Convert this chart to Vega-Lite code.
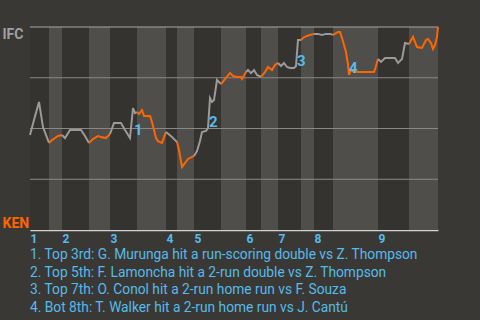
{
  "$schema": "https://vega.github.io/schema/vega-lite/v6.json",
  "width": 408,
  "height": 203,
  "autosize": {"type": "none"},
  "padding": {"left": 30, "top": 27, "right": 42, "bottom": 90},
  "background": "#3a3835",
  "config": {
    "view": {"stroke": null},
    "font": "Roboto",
    "axisX": {
      "grid": false,
      "ticks": false,
      "tickSize": 0,
      "domain": true,
      "domainColor": "#d2d2d2",
      "domainWidth": 1.5,
      "labelAlign": "left",
      "labelBaseline": "alphabetic",
      "labelPadding": 12,
      "labelColor": "#55bbea",
      "labelFont": "Roboto",
      "labelFontSize": 12,
      "labelFontWeight": "bold",
      "labelFlush": false,
      "labelOverlap": false,
      "title": null,
      "zindex": 1
    },
    "axisY": {
      "grid": false,
      "ticks": false,
      "tickSize": 0,
      "domain": true,
      "domainColor": "#a8a8a8",
      "labelAlign": "left",
      "labelPadding": 28,
      "labelBaseline": "alphabetic",
      "labelFont": "Roboto",
      "labelFontSize": 14,
      "labelFontWeight": "bold",
      "title": null,
      "zindex": 1
    }
  },
  "title": {
    "text": [
      "1. Top 3rd: G. Murunga hit a run-scoring double vs Z. Thompson",
      "2. Top 5th: F. Lamoncha hit a 2-run double vs Z. Thompson",
      "3. Top 7th: O. Conol hit a 2-run home run vs F. Souza",
      "4. Bot 8th: T. Walker hit a 2-run home run vs J. Cantú"
    ],
    "orient": "bottom",
    "anchor": "start",
    "frame": "group",
    "font": "Roboto",
    "fontSize": 13.75,
    "fontWeight": "normal",
    "color": "#55bbea",
    "lineHeight": 17.7,
    "baseline": "top",
    "offset": 4
  },
  "datasets": {
    "halves": [
      {"half": "top", "start": 0, "end": 4.75},
      {"half": "bottom", "start": 4.75, "end": 8},
      {"half": "top", "start": 8, "end": 14.75},
      {"half": "bottom", "start": 14.75, "end": 20},
      {"half": "top", "start": 20, "end": 26.75},
      {"half": "bottom", "start": 26.75, "end": 34},
      {"half": "top", "start": 34, "end": 36.75},
      {"half": "bottom", "start": 36.75, "end": 41},
      {"half": "top", "start": 41, "end": 47.75},
      {"half": "bottom", "start": 47.75, "end": 54},
      {"half": "top", "start": 54, "end": 57.75},
      {"half": "bottom", "start": 57.75, "end": 62},
      {"half": "top", "start": 62, "end": 67.75},
      {"half": "bottom", "start": 67.75, "end": 71},
      {"half": "top", "start": 71, "end": 75.75},
      {"half": "bottom", "start": 75.75, "end": 87},
      {"half": "top", "start": 87, "end": 94.75},
      {"half": "bottom", "start": 94.75, "end": 102}
    ],
    "grid": [{"wp": 25}, {"wp": 50}, {"wp": 75}],
    "top": [{"wp": 100}],
    "events": [
      {"n": "1", "play": 26.0, "wp": 49.3},
      {"n": "2", "play": 44.75, "wp": 53.2},
      {"n": "3", "play": 66.75, "wp": 83.3},
      {"n": "4", "play": 79.75, "wp": 79.8}
    ],
    "wp": [
      {"seg": 1, "team": "IFC", "play": 0, "wp": 46.8},
      {"seg": 1, "team": "IFC", "play": 1, "wp": 54.2},
      {"seg": 1, "team": "IFC", "play": 2.25, "wp": 63.1},
      {"seg": 1, "team": "IFC", "play": 3.25, "wp": 50.7},
      {"seg": 1, "team": "IFC", "play": 4.75, "wp": 42.9},
      {"seg": 2, "team": "KEN", "play": 4.75, "wp": 42.9},
      {"seg": 2, "team": "KEN", "play": 5.5, "wp": 44.3},
      {"seg": 2, "team": "KEN", "play": 6.25, "wp": 45.3},
      {"seg": 2, "team": "KEN", "play": 7, "wp": 46.3},
      {"seg": 2, "team": "KEN", "play": 8, "wp": 46.8},
      {"seg": 3, "team": "IFC", "play": 8, "wp": 46.8},
      {"seg": 3, "team": "IFC", "play": 8.75, "wp": 45.3},
      {"seg": 3, "team": "IFC", "play": 10, "wp": 49.3},
      {"seg": 3, "team": "IFC", "play": 12.75, "wp": 49.3},
      {"seg": 3, "team": "IFC", "play": 13.75, "wp": 46.3},
      {"seg": 3, "team": "IFC", "play": 14.75, "wp": 42.9},
      {"seg": 4, "team": "KEN", "play": 14.75, "wp": 42.9},
      {"seg": 4, "team": "KEN", "play": 15.75, "wp": 44.8},
      {"seg": 4, "team": "KEN", "play": 17, "wp": 46.3},
      {"seg": 4, "team": "KEN", "play": 17.75, "wp": 45.8},
      {"seg": 4, "team": "KEN", "play": 19, "wp": 45.3},
      {"seg": 4, "team": "KEN", "play": 20, "wp": 47.3},
      {"seg": 5, "team": "IFC", "play": 20, "wp": 47.3},
      {"seg": 5, "team": "IFC", "play": 21, "wp": 52.7},
      {"seg": 5, "team": "IFC", "play": 22.75, "wp": 52.7},
      {"seg": 5, "team": "IFC", "play": 23.75, "wp": 49.3},
      {"seg": 5, "team": "IFC", "play": 25, "wp": 45.3},
      {"seg": 5, "team": "IFC", "play": 25.75, "wp": 60.1},
      {"seg": 5, "team": "IFC", "play": 26.25, "wp": 57.6},
      {"seg": 5, "team": "IFC", "play": 26.75, "wp": 58.1},
      {"seg": 6, "team": "KEN", "play": 26.75, "wp": 58.1},
      {"seg": 6, "team": "KEN", "play": 27.25, "wp": 57.1},
      {"seg": 6, "team": "KEN", "play": 28, "wp": 59.1},
      {"seg": 6, "team": "KEN", "play": 28.5, "wp": 56.2},
      {"seg": 6, "team": "KEN", "play": 30, "wp": 56.2},
      {"seg": 6, "team": "KEN", "play": 30.5, "wp": 53.2},
      {"seg": 6, "team": "KEN", "play": 31, "wp": 49.3},
      {"seg": 6, "team": "KEN", "play": 31.5, "wp": 45.3},
      {"seg": 6, "team": "KEN", "play": 32, "wp": 43.8},
      {"seg": 6, "team": "KEN", "play": 33, "wp": 42.9},
      {"seg": 6, "team": "KEN", "play": 34, "wp": 48.3},
      {"seg": 7, "team": "IFC", "play": 34, "wp": 48.3},
      {"seg": 7, "team": "IFC", "play": 35.5, "wp": 45.8},
      {"seg": 7, "team": "IFC", "play": 36.75, "wp": 43.3},
      {"seg": 8, "team": "KEN", "play": 36.75, "wp": 43.3},
      {"seg": 8, "team": "KEN", "play": 37.25, "wp": 39.4},
      {"seg": 8, "team": "KEN", "play": 38, "wp": 31.0},
      {"seg": 8, "team": "KEN", "play": 39.5, "wp": 35.0},
      {"seg": 8, "team": "KEN", "play": 41, "wp": 36.5},
      {"seg": 9, "team": "IFC", "play": 41, "wp": 36.5},
      {"seg": 9, "team": "IFC", "play": 41.75, "wp": 38.9},
      {"seg": 9, "team": "IFC", "play": 42.5, "wp": 43.8},
      {"seg": 9, "team": "IFC", "play": 43, "wp": 48.3},
      {"seg": 9, "team": "IFC", "play": 44, "wp": 48.8},
      {"seg": 9, "team": "IFC", "play": 44.5, "wp": 50.2},
      {"seg": 9, "team": "IFC", "play": 45, "wp": 65.0},
      {"seg": 9, "team": "IFC", "play": 45.5, "wp": 63.1},
      {"seg": 9, "team": "IFC", "play": 46, "wp": 64.0},
      {"seg": 9, "team": "IFC", "play": 46.75, "wp": 73.9},
      {"seg": 9, "team": "IFC", "play": 47.25, "wp": 72.9},
      {"seg": 9, "team": "IFC", "play": 47.75, "wp": 71.9},
      {"seg": 10, "team": "KEN", "play": 47.75, "wp": 71.9},
      {"seg": 10, "team": "KEN", "play": 49, "wp": 74.9},
      {"seg": 10, "team": "KEN", "play": 50, "wp": 77.3},
      {"seg": 10, "team": "KEN", "play": 50.75, "wp": 75.9},
      {"seg": 10, "team": "KEN", "play": 51.75, "wp": 75.4},
      {"seg": 10, "team": "KEN", "play": 52.75, "wp": 75.4},
      {"seg": 10, "team": "KEN", "play": 53, "wp": 74.4},
      {"seg": 10, "team": "KEN", "play": 54, "wp": 77.8},
      {"seg": 11, "team": "IFC", "play": 54, "wp": 77.8},
      {"seg": 11, "team": "IFC", "play": 54.5, "wp": 78.8},
      {"seg": 11, "team": "IFC", "play": 55.25, "wp": 77.3},
      {"seg": 11, "team": "IFC", "play": 56, "wp": 78.8},
      {"seg": 11, "team": "IFC", "play": 56.75, "wp": 76.4},
      {"seg": 11, "team": "IFC", "play": 57.75, "wp": 75.4},
      {"seg": 12, "team": "KEN", "play": 57.75, "wp": 75.4},
      {"seg": 12, "team": "KEN", "play": 58.75, "wp": 77.8},
      {"seg": 12, "team": "KEN", "play": 59.5, "wp": 80.3},
      {"seg": 12, "team": "KEN", "play": 60.5, "wp": 78.8},
      {"seg": 12, "team": "KEN", "play": 61.25, "wp": 81.3},
      {"seg": 12, "team": "KEN", "play": 62, "wp": 82.3},
      {"seg": 13, "team": "IFC", "play": 62, "wp": 82.3},
      {"seg": 13, "team": "IFC", "play": 62.75, "wp": 80.8},
      {"seg": 13, "team": "IFC", "play": 63.5, "wp": 82.3},
      {"seg": 13, "team": "IFC", "play": 64.25, "wp": 80.3},
      {"seg": 13, "team": "IFC", "play": 65, "wp": 79.8},
      {"seg": 13, "team": "IFC", "play": 66, "wp": 79.8},
      {"seg": 13, "team": "IFC", "play": 66.5, "wp": 80.8},
      {"seg": 13, "team": "IFC", "play": 67, "wp": 93.6},
      {"seg": 13, "team": "IFC", "play": 67.75, "wp": 93.6},
      {"seg": 14, "team": "KEN", "play": 67.75, "wp": 93.6},
      {"seg": 14, "team": "KEN", "play": 68.25, "wp": 94.6},
      {"seg": 14, "team": "KEN", "play": 69.25, "wp": 95.6},
      {"seg": 14, "team": "KEN", "play": 70, "wp": 96.1},
      {"seg": 14, "team": "KEN", "play": 71, "wp": 96.6},
      {"seg": 15, "team": "IFC", "play": 71, "wp": 96.6},
      {"seg": 15, "team": "IFC", "play": 72, "wp": 96.6},
      {"seg": 15, "team": "IFC", "play": 73, "wp": 96.1},
      {"seg": 15, "team": "IFC", "play": 74, "wp": 96.6},
      {"seg": 15, "team": "IFC", "play": 75, "wp": 96.6},
      {"seg": 15, "team": "IFC", "play": 75.75, "wp": 96.1},
      {"seg": 16, "team": "KEN", "play": 75.75, "wp": 96.1},
      {"seg": 16, "team": "KEN", "play": 77, "wp": 97.5},
      {"seg": 16, "team": "KEN", "play": 77.5, "wp": 97.5},
      {"seg": 16, "team": "KEN", "play": 78, "wp": 94.6},
      {"seg": 16, "team": "KEN", "play": 78.5, "wp": 91.1},
      {"seg": 16, "team": "KEN", "play": 79, "wp": 87.7},
      {"seg": 16, "team": "KEN", "play": 79.25, "wp": 84.2},
      {"seg": 16, "team": "KEN", "play": 79.5, "wp": 81.8},
      {"seg": 16, "team": "KEN", "play": 79.75, "wp": 76.4},
      {"seg": 16, "team": "KEN", "play": 80.25, "wp": 78.8},
      {"seg": 16, "team": "KEN", "play": 81, "wp": 77.8},
      {"seg": 16, "team": "KEN", "play": 86, "wp": 77.8},
      {"seg": 16, "team": "KEN", "play": 86.5, "wp": 80.8},
      {"seg": 16, "team": "KEN", "play": 87, "wp": 84.2},
      {"seg": 17, "team": "IFC", "play": 87, "wp": 84.2},
      {"seg": 17, "team": "IFC", "play": 87.75, "wp": 82.8},
      {"seg": 17, "team": "IFC", "play": 88.75, "wp": 84.7},
      {"seg": 17, "team": "IFC", "play": 91.25, "wp": 84.7},
      {"seg": 17, "team": "IFC", "play": 92, "wp": 82.3},
      {"seg": 17, "team": "IFC", "play": 93, "wp": 84.2},
      {"seg": 17, "team": "IFC", "play": 93.75, "wp": 92.1},
      {"seg": 17, "team": "IFC", "play": 94.75, "wp": 91.6},
      {"seg": 18, "team": "KEN", "play": 94.75, "wp": 91.6},
      {"seg": 18, "team": "KEN", "play": 95.75, "wp": 95.1},
      {"seg": 18, "team": "KEN", "play": 96.75, "wp": 90.1},
      {"seg": 18, "team": "KEN", "play": 98, "wp": 89.7},
      {"seg": 18, "team": "KEN", "play": 99, "wp": 93.6},
      {"seg": 18, "team": "KEN", "play": 99.5, "wp": 94.1},
      {"seg": 18, "team": "KEN", "play": 100.25, "wp": 92.1},
      {"seg": 18, "team": "KEN", "play": 100.75, "wp": 89.2},
      {"seg": 18, "team": "KEN", "play": 101.25, "wp": 91.1},
      {"seg": 18, "team": "KEN", "play": 101.75, "wp": 95.1},
      {"seg": 18, "team": "KEN", "play": 102, "wp": 100}
    ]
  },
  "layer": [
    {
      "data": {"name": "halves"},
      "mark": {"type": "rect"},
      "encoding": {
        "x": {
          "field": "start",
          "type": "quantitative",
          "scale": {"domain": [0, 102], "nice": false, "zero": false},
          "axis": {
            "values": [0, 8, 20, 34, 41, 54, 62, 71, 87],
            "labelExpr": "indexof([0, 8, 20, 34, 41, 54, 62, 71, 87], datum.value) + 1"
          }
        },
        "x2": {"field": "end"},
        "color": {
          "field": "half",
          "type": "nominal",
          "scale": {"domain": ["top", "bottom"], "range": ["#353330", "#504e4b"]},
          "legend": null
        }
      }
    },
    {
      "data": {"name": "grid"},
      "mark": {"type": "rule", "stroke": "#8a8886", "strokeWidth": 1},
      "encoding": {
        "y": {
          "field": "wp",
          "type": "quantitative",
          "scale": {"domain": [0, 100], "nice": false},
          "axis": {
            "values": [0, 100],
            "labelExpr": "datum.value == 100 ? 'IFC' : 'KEN'",
            "labelOffset": {"condition": {"test": "datum.value == 100", "value": 11}, "value": -3},
            "labelColor": {"condition": {"test": "datum.value == 100", "value": "#a0a0a0"}, "value": "#ff6600"}
          }
        }
      }
    },
    {
      "data": {"name": "top"},
      "mark": {"type": "rule", "stroke": "#a6a6a6", "strokeWidth": 1},
      "encoding": {
        "y": {
          "field": "wp",
          "type": "quantitative",
          "axis": {
            "values": [0, 100],
            "labelExpr": "datum.value == 100 ? 'IFC' : 'KEN'",
            "labelOffset": {"condition": {"test": "datum.value == 100", "value": 11}, "value": -3},
            "labelColor": {"condition": {"test": "datum.value == 100", "value": "#a0a0a0"}, "value": "#ff6600"}
          }
        }
      }
    },
    {
      "data": {"name": "wp"},
      "mark": {"type": "line", "strokeWidth": 2, "strokeJoin": "miter"},
      "encoding": {
        "x": {
          "field": "play",
          "type": "quantitative",
          "axis": {
            "values": [0, 8, 20, 34, 41, 54, 62, 71, 87],
            "labelExpr": "indexof([0, 8, 20, 34, 41, 54, 62, 71, 87], datum.value) + 1"
          }
        },
        "y": {
          "field": "wp",
          "type": "quantitative",
          "axis": {
            "values": [0, 100],
            "labelExpr": "datum.value == 100 ? 'IFC' : 'KEN'",
            "labelOffset": {"condition": {"test": "datum.value == 100", "value": 11}, "value": -3},
            "labelColor": {"condition": {"test": "datum.value == 100", "value": "#a0a0a0"}, "value": "#ff6600"}
          }
        },
        "detail": {"field": "seg", "type": "nominal"},
        "color": {
          "field": "team",
          "type": "nominal",
          "scale": {"domain": ["IFC", "KEN"], "range": ["#9a9a9a", "#ff6600"]},
          "legend": null
        }
      }
    },
    {
      "data": {"name": "events"},
      "mark": {"type": "text", "align": "left", "baseline": "middle", "font": "Roboto", "fontSize": 15, "fontWeight": "bold", "fill": "#55bbea"},
      "encoding": {
        "x": {
          "field": "play",
          "type": "quantitative",
          "axis": {
            "values": [0, 8, 20, 34, 41, 54, 62, 71, 87],
            "labelExpr": "indexof([0, 8, 20, 34, 41, 54, 62, 71, 87], datum.value) + 1"
          }
        },
        "y": {
          "field": "wp",
          "type": "quantitative",
          "axis": {
            "values": [0, 100],
            "labelExpr": "datum.value == 100 ? 'IFC' : 'KEN'",
            "labelOffset": {"condition": {"test": "datum.value == 100", "value": 11}, "value": -3},
            "labelColor": {"condition": {"test": "datum.value == 100", "value": "#a0a0a0"}, "value": "#ff6600"}
          }
        },
        "text": {"field": "n"}
      }
    }
  ],
  "resolve": {"scale": {"color": "independent"}}
}
